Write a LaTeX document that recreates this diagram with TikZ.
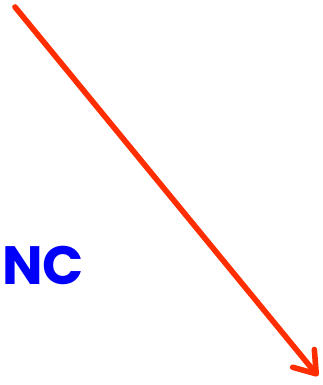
\documentclass[tikz,border=0pt]{standalone}
\usepackage{fontspec}
\newfontfamily\ncfont{Poppins}
\usetikzlibrary{arrows.meta,positioning}
\definecolor{ncRed}{RGB}{255,45,0}
\definecolor{ncBlue}{RGB}{0,0,250}
\tikzset{
    ncArrow/.style={-{Straight Barb[length=20pt,width=28pt,round]}, line width=5.6pt, line cap=round, draw=ncRed},
    ncLabel/.style={font=\ncfont\bfseries\fontsize{54}{54}\selectfont, text=ncBlue, inner sep=0pt, anchor=west}
}
\begin{document}
\begin{tikzpicture}[x=1pt,y=-1pt]
\useasboundingbox (0,0) rectangle (323,385);
\coordinate (start) at (15,7);
\coordinate (end) at (318,376);
\draw[ncArrow] (start) -- (end);
\node[ncLabel] (nc) at (2,265) {NC};
\end{tikzpicture}
\end{document}
